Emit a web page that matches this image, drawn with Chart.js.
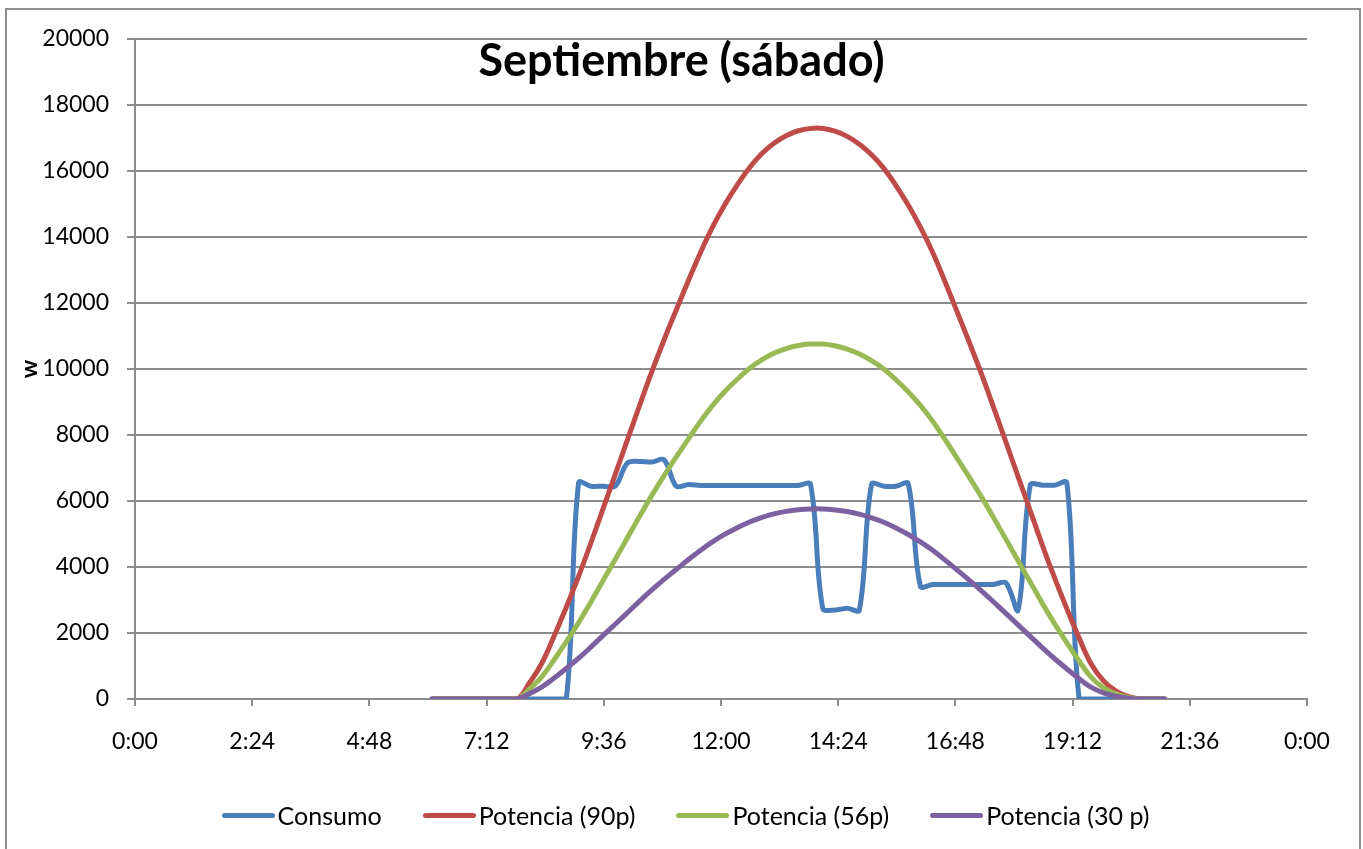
<!DOCTYPE html>
<html lang="es">
<head>
<meta charset="utf-8">
<title>Septiembre (sábado)</title>
<script src="https://cdn.jsdelivr.net/npm/chart.js@4.4.1/dist/chart.umd.min.js"></script>
<style>
  html, body { margin: 0; padding: 0; background: #fff; }
  #wrap { position: relative; width: 1363px; height: 849px; overflow: hidden; font-family: Lato, sans-serif; }
  #frame { position: absolute; left: 5px; top: 8px; width: 1352px; height: 900px; border: 2px solid #8e8e8e; }
  #chart { position: absolute; left: 0; top: 0; }
  #title { position: absolute; left: 0; top: 37px; width: 1363px; text-align: center;
           font: bold 45px/1 Lato, sans-serif; color: #000; }
  #chartLegend { position: absolute; left: 4px; top: 800px; width: 1363px; height: 30px;
                 display: flex; justify-content: center; align-items: center; gap: 41px;
                 font: 25px/1 Lato, sans-serif; color: #000; }
  .legend-item { display: flex; align-items: center; gap: 3px; }
  .legend-line { width: 53px; height: 5px; border-radius: 3px; }
</style>
</head>
<body>
<div id="wrap">
  <div id="frame"></div>
  <canvas id="chart" width="1363" height="849"></canvas>
  <div id="title">Septiembre (sábado)</div>
  <div id="chartLegend"></div>
</div>
<script>
// Muestras cada 15 minutos
const horas = [
  '6:05','6:20','6:35','6:50','7:05','7:20','7:35','7:50',
  '8:05','8:20','8:35','8:50','9:05','9:20','9:35','9:50',
  '10:05','10:20','10:35','10:50','11:05','11:20','11:35','11:50',
  '12:05','12:20','12:35','12:50','13:05','13:20','13:35','13:50',
  '14:05','14:20','14:35','14:50','15:05','15:20','15:35','15:50',
  '16:05','16:20','16:35','16:50','17:05','17:20','17:35','17:50',
  '18:05','18:20','18:35','18:50','19:05','19:20','19:35','19:50',
  '20:05','20:20','20:35','20:50','21:05'
];

const consumo = [
  0, 0, 0, 0, 0, 0, 0, 0,
  0, 0, 0, 0, 6550, 6450, 6450, 6450,
  7150, 7200, 7180, 7250, 6450, 6500, 6470, 6470,
  6470, 6470, 6470, 6470, 6470, 6470, 6470, 6500,
  2750, 2700, 2750, 2700, 6500, 6450, 6450, 6520,
  3420, 3470, 3470, 3470, 3470, 3470, 3470, 3520,
  2700, 6480, 6480, 6480, 6550, 0, 0, 0,
  0, 0, 0, 0, 0
];

const potencia90 = [
  0, 0, 0, 0, 0, 0, 0, 0,
  500, 1090, 1910, 2790, 3715, 4720, 5760, 6800,
  7850, 8900, 9920, 10880, 11790, 12680, 13540, 14320,
  14990, 15580, 16100, 16520, 16840, 17070, 17220, 17290,
  17290, 17210, 17050, 16810, 16490, 16080, 15560, 14970,
  14300, 13540, 12660, 11740, 10810, 9850, 8830, 7790,
  6740, 5700, 4650, 3660, 2730, 1850, 1050, 550,
  250, 80, 0, 0, 0
];

const potencia56 = [
  0, 0, 0, 0, 0, 0, 0, 0,
  310, 680, 1190, 1735, 2310, 2935, 3585, 4230,
  4885, 5535, 6170, 6765, 7335, 7885, 8420, 8905,
  9325, 9690, 10015, 10275, 10475, 10615, 10710, 10755,
  10755, 10705, 10605, 10455, 10255, 10000, 9675, 9310,
  8895, 8420, 7875, 7300, 6725, 6125, 5490, 4845,
  4190, 3545, 2890, 2275, 1700, 1150, 655, 340,
  155, 50, 0, 0, 0
];

const potencia30 = [
  0, 0, 0, 0, 0, 0, 0, 0,
  165, 365, 635, 930, 1235, 1570, 1920, 2265,
  2615, 2965, 3305, 3625, 3925, 4225, 4510, 4770,
  4995, 5190, 5365, 5500, 5610, 5685, 5735, 5760,
  5760, 5730, 5680, 5600, 5490, 5355, 5180, 4985,
  4760, 4505, 4215, 3910, 3600, 3280, 2940, 2595,
  2245, 1900, 1550, 1220, 910, 615, 350, 185,
  85, 25, 0, 0, 0
];

const COLORS = {
  consumo: '#4a7ebb',
  p90:     '#be4b48',
  p56:     '#98b954',
  p30:     '#7d60a0',
};

const GRID = '#8c8c8c';
const TICK_FONT = { family: 'Lato', size: 23 };

function toHours(txt) {
  const [h, m] = txt.split(':').map(Number);
  return h + m / 60;
}

function points(values) {
  return values.map((v, i) => ({ x: toHours(horas[i]), y: v }));
}

// 0.1 dia -> "2:24", etc.
function fmtHora(value) {
  const mins = Math.round(value * 60);
  const h = Math.floor(mins / 60) % 24;
  const m = mins % 60;
  return h + ':' + String(m).padStart(2, '0');
}

function serie(label, values, color, order, tension) {
  return {
    label,
    data: points(values),
    borderColor: color,
    backgroundColor: color,
    borderWidth: 5,
    borderCapStyle: 'round',
    borderJoinStyle: 'round',
    pointRadius: 0,
    fill: false,
    order,
    tension,
  };
}

const datasets = [
  serie('Consumo',          consumo,    COLORS.consumo, 3, 0.35),
  serie('Potencia (90p)',   potencia90, COLORS.p90,     2, 0.4),
  serie('Potencia (56p)',   potencia56, COLORS.p56,     1, 0.4),
  serie('Potencia (30 p)',  potencia30, COLORS.p30,     0, 0.4),
];

new Chart(document.getElementById('chart').getContext('2d'), {
  type: 'line',
  data: { datasets },
  options: {
    responsive: false,
    animation: false,
    layout: { padding: { left: 5, top: 39, right: 56, bottom: 90 } },
    plugins: {
      legend: { display: false },
      tooltip: { enabled: false },
    },
    scales: {
      x: {
        type: 'linear',
        min: 0,
        max: 24,
        ticks: {
          stepSize: 2.4,
          callback: fmtHora,
          font: TICK_FONT,
          color: '#000',
          padding: 22,
          maxRotation: 0,
          autoSkip: false,
        },
        grid: { drawOnChartArea: false, tickLength: 7, color: GRID, lineWidth: 2 },
        border: { color: GRID, width: 2 },
        afterFit: s => { s.height = 60; },
      },
      y: {
        min: 0,
        max: 20000,
        ticks: {
          stepSize: 2000,
          callback: v => String(v),
          font: TICK_FONT,
          color: '#000',
          padding: 18,
        },
        grid: { color: GRID, lineWidth: 2, tickLength: 8 },
        border: { color: GRID, width: 2 },
        title: {
          display: true,
          text: 'w',
          color: '#000',
          font: { family: 'Lato', size: 23, weight: 'bold' },
          padding: { top: 11, bottom: 0 },
        },
        afterFit: s => { s.width = 130; },
      },
    },
  },
});

// ── Leyenda HTML ─────────────────────────────────────────────
document.getElementById('chartLegend').innerHTML = datasets.map(d => `
  <div class="legend-item">
    <div class="legend-line" style="background:${d.borderColor}"></div>
    <span>${d.label}</span>
  </div>`).join('');
</script>
</body>
</html>
